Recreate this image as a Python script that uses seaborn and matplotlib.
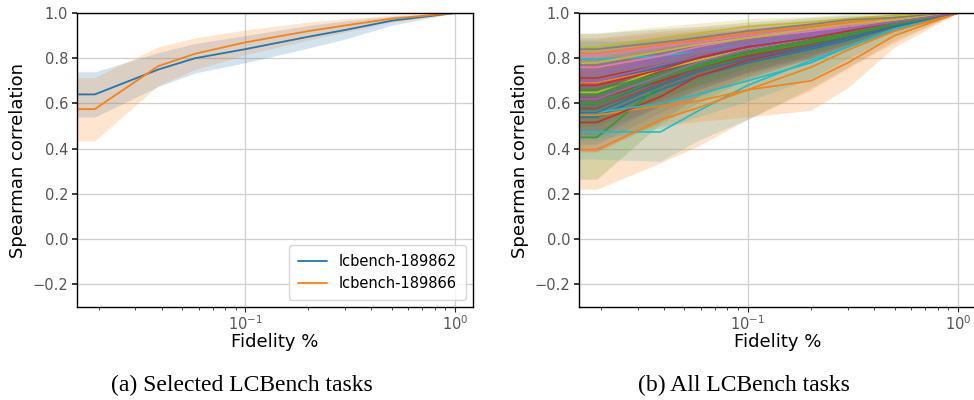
import numpy as np
import pandas as pd
import matplotlib
matplotlib.use("Agg")
import matplotlib.pyplot as plt
import seaborn as sns

# ---------------- data ----------------
fidelity = [0.0158, 0.0192, 0.0385, 0.0577, 0.1, 0.2, 0.3, 0.5, 1.0]

sel_tasks = ["lcbench-189862", "lcbench-189866"]
sel_mean = [
    [0.64, 0.64, 0.75, 0.80, 0.84, 0.895, 0.925, 0.966, 1.0],
    [0.575, 0.575, 0.765, 0.82, 0.87, 0.92, 0.945, 0.975, 1.0],
]
sel_std = [
    [0.10, 0.10, 0.075, 0.065, 0.06, 0.05, 0.04, 0.02, 0.0],
    [0.14, 0.14, 0.085, 0.07, 0.055, 0.04, 0.03, 0.015, 0.0],
]

all_mean = [
    [0.60, 0.60, 0.70, 0.75, 0.80, 0.86, 0.90, 0.95, 1.0],
    [0.821, 0.821, 0.86, 0.88, 0.91, 0.94, 0.96, 0.98, 1.0],
    [0.64, 0.64, 0.72, 0.77, 0.82, 0.87, 0.91, 0.95, 1.0],
    [0.713, 0.713, 0.77, 0.81, 0.85, 0.89, 0.92, 0.96, 1.0],
    [0.74, 0.74, 0.80, 0.84, 0.87, 0.91, 0.94, 0.97, 1.0],
    [0.575, 0.575, 0.69, 0.75, 0.80, 0.86, 0.90, 0.95, 1.0],
    [0.814, 0.814, 0.85, 0.87, 0.90, 0.93, 0.95, 0.97, 1.0],
    [0.77, 0.77, 0.82, 0.85, 0.88, 0.92, 0.94, 0.97, 1.0],
    [0.851, 0.851, 0.89, 0.91, 0.94, 0.96, 0.975, 0.99, 1.0],
    [0.795, 0.795, 0.81, 0.83, 0.86, 0.89, 0.92, 0.96, 1.0],
    [0.54, 0.54, 0.66, 0.72, 0.78, 0.84, 0.88, 0.94, 1.0],
    [0.693, 0.693, 0.75, 0.79, 0.84, 0.89, 0.92, 0.96, 1.0],
    [0.45, 0.45, 0.68, 0.74, 0.81, 0.87, 0.91, 0.95, 1.0],
    [0.622, 0.622, 0.70, 0.76, 0.81, 0.86, 0.90, 0.95, 1.0],
    [0.725, 0.725, 0.79, 0.83, 0.87, 0.91, 0.93, 0.96, 1.0],
    [0.66, 0.66, 0.74, 0.78, 0.83, 0.88, 0.91, 0.95, 1.0],
    [0.78, 0.78, 0.83, 0.86, 0.89, 0.92, 0.95, 0.97, 1.0],
    [0.84, 0.84, 0.87, 0.89, 0.92, 0.95, 0.97, 0.98, 1.0],
    [0.649, 0.649, 0.75, 0.79, 0.84, 0.89, 0.92, 0.96, 1.0],
    [0.474, 0.474, 0.474, 0.565, 0.68, 0.79, 0.85, 0.93, 1.0],
    [0.70, 0.70, 0.76, 0.80, 0.85, 0.89, 0.92, 0.96, 1.0],
    [0.548, 0.548, 0.59, 0.61, 0.66, 0.70, 0.78, 0.90, 1.0],
    [0.66, 0.66, 0.73, 0.78, 0.83, 0.88, 0.91, 0.95, 1.0],
    [0.516, 0.516, 0.63, 0.72, 0.79, 0.85, 0.89, 0.94, 1.0],
    [0.62, 0.62, 0.72, 0.78, 0.84, 0.89, 0.92, 0.96, 1.0],
    [0.58, 0.58, 0.68, 0.74, 0.80, 0.86, 0.90, 0.95, 1.0],
    [0.76, 0.76, 0.81, 0.85, 0.89, 0.92, 0.94, 0.97, 1.0],
    [0.72, 0.72, 0.78, 0.82, 0.86, 0.90, 0.93, 0.96, 1.0],
    [0.78, 0.78, 0.83, 0.86, 0.89, 0.93, 0.95, 0.97, 1.0],
    [0.56, 0.56, 0.60, 0.64, 0.70, 0.78, 0.85, 0.93, 1.0],
    [0.56, 0.56, 0.68, 0.74, 0.80, 0.85, 0.89, 0.94, 1.0],
    [0.396, 0.396, 0.527, 0.58, 0.66, 0.76, 0.836, 0.92, 1.0],
    [0.60, 0.60, 0.71, 0.76, 0.82, 0.87, 0.90, 0.95, 1.0],
    [0.68, 0.68, 0.75, 0.80, 0.85, 0.89, 0.92, 0.96, 1.0],
    [0.70, 0.70, 0.77, 0.81, 0.86, 0.90, 0.93, 0.96, 1.0],
]
all_std = [
    [0.09, 0.09, 0.08, 0.07, 0.06, 0.045, 0.035, 0.02, 0.0],
    [0.07, 0.07, 0.06, 0.05, 0.04, 0.03, 0.02, 0.01, 0.0],
    [0.10, 0.10, 0.09, 0.08, 0.06, 0.045, 0.035, 0.02, 0.0],
    [0.08, 0.08, 0.07, 0.06, 0.05, 0.04, 0.03, 0.015, 0.0],
    [0.08, 0.08, 0.07, 0.06, 0.05, 0.04, 0.03, 0.015, 0.0],
    [0.11, 0.11, 0.09, 0.08, 0.07, 0.05, 0.04, 0.02, 0.0],
    [0.07, 0.07, 0.06, 0.05, 0.04, 0.03, 0.02, 0.01, 0.0],
    [0.08, 0.08, 0.07, 0.06, 0.05, 0.035, 0.025, 0.015, 0.0],
    [0.06, 0.06, 0.05, 0.045, 0.035, 0.025, 0.02, 0.01, 0.0],
    [0.08, 0.08, 0.07, 0.06, 0.05, 0.04, 0.03, 0.015, 0.0],
    [0.12, 0.12, 0.10, 0.09, 0.07, 0.05, 0.04, 0.02, 0.0],
    [0.09, 0.09, 0.08, 0.07, 0.055, 0.04, 0.03, 0.015, 0.0],
    [0.185, 0.185, 0.17, 0.14, 0.10, 0.07, 0.05, 0.03, 0.0],
    [0.10, 0.10, 0.09, 0.08, 0.065, 0.05, 0.04, 0.02, 0.0],
    [0.08, 0.08, 0.07, 0.06, 0.05, 0.04, 0.03, 0.015, 0.0],
    [0.09, 0.09, 0.08, 0.07, 0.055, 0.04, 0.03, 0.015, 0.0],
    [0.07, 0.07, 0.06, 0.05, 0.04, 0.03, 0.02, 0.01, 0.0],
    [0.07, 0.07, 0.06, 0.05, 0.04, 0.03, 0.02, 0.01, 0.0],
    [0.10, 0.10, 0.08, 0.07, 0.055, 0.04, 0.03, 0.015, 0.0],
    [0.12, 0.12, 0.13, 0.13, 0.15, 0.12, 0.09, 0.05, 0.0],
    [0.08, 0.08, 0.07, 0.06, 0.05, 0.04, 0.03, 0.015, 0.0],
    [0.09, 0.09, 0.09, 0.09, 0.12, 0.13, 0.11, 0.05, 0.0],
    [0.09, 0.09, 0.08, 0.07, 0.055, 0.04, 0.03, 0.015, 0.0],
    [0.13, 0.13, 0.11, 0.09, 0.07, 0.05, 0.04, 0.02, 0.0],
    [0.10, 0.10, 0.08, 0.07, 0.055, 0.04, 0.03, 0.015, 0.0],
    [0.11, 0.11, 0.09, 0.08, 0.06, 0.045, 0.035, 0.02, 0.0],
    [0.07, 0.07, 0.06, 0.05, 0.04, 0.03, 0.02, 0.01, 0.0],
    [0.08, 0.08, 0.07, 0.06, 0.05, 0.04, 0.03, 0.015, 0.0],
    [0.07, 0.07, 0.06, 0.05, 0.04, 0.03, 0.02, 0.01, 0.0],
    [0.12, 0.12, 0.11, 0.10, 0.09, 0.07, 0.05, 0.03, 0.0],
    [0.11, 0.11, 0.09, 0.08, 0.065, 0.05, 0.04, 0.02, 0.0],
    [0.175, 0.175, 0.19, 0.17, 0.13, 0.10, 0.08, 0.05, 0.0],
    [0.10, 0.10, 0.09, 0.08, 0.06, 0.045, 0.035, 0.02, 0.0],
    [0.09, 0.09, 0.08, 0.07, 0.055, 0.04, 0.03, 0.015, 0.0],
    [0.08, 0.08, 0.07, 0.06, 0.05, 0.04, 0.03, 0.015, 0.0],
]
all_tasks = [f"task-{i:02d}" for i in range(len(all_mean))]

y_ticks = [-0.2, 0.0, 0.2, 0.4, 0.6, 0.8, 1.0]
captions = ["(a) Selected LCBench tasks", "(b) All LCBench tasks"]

# ---------------- style ----------------
sns.set_theme(style="whitegrid")
plt.rcParams.update({
    "font.family": ["DejaVu Sans"],
    "text.color": "black",
    "axes.labelcolor": "black",
    "axes.edgecolor": "black",
    "axes.linewidth": 1.0,
    "grid.color": "#cfcfcf",
    "grid.linewidth": 0.9,
    "xtick.bottom": True,
    "ytick.left": True,
    "xtick.color": "#222222",
    "ytick.color": "#222222",
    "xtick.labelcolor": "#555555",
    "ytick.labelcolor": "#555555",
    "xtick.major.size": 3.5,
    "ytick.major.size": 3.5,
    "xtick.minor.size": 2.0,
    "xtick.minor.visible": True,
    "xtick.major.width": 0.8,
    "xtick.minor.width": 0.6,
    "xtick.major.pad": 2.0,
    "ytick.major.pad": 3.0,
    "xtick.labelsize": 10.5,
    "ytick.labelsize": 10.5,
})

fig = plt.figure(figsize=(9.74, 4.0), dpi=100)
ax1 = fig.add_axes([0.0791, 0.2325, 0.4066, 0.735])
ax2 = fig.add_axes([0.5945, 0.2325, 0.4076, 0.735])


def long_df(tasks, means):
    rows = []
    for t, m in zip(tasks, means):
        for f, v in zip(fidelity, m):
            rows.append((t, f, v))
    return pd.DataFrame(rows, columns=["task", "fidelity", "spearman"])


tab10 = sns.color_palette("tab10")

# left panel
df1 = long_df(sel_tasks, sel_mean)
pal1 = {t: tab10[i % 10] for i, t in enumerate(sel_tasks)}
sns.lineplot(data=df1, x="fidelity", y="spearman", hue="task", palette=pal1,
             errorbar=None, linewidth=1.3, ax=ax1)
for i, t in enumerate(sel_tasks):
    m = np.array(sel_mean[i]); s = np.array(sel_std[i])
    ax1.fill_between(fidelity, m - s, m + s, color=pal1[t], alpha=0.2, linewidth=0)
ax1.legend(loc="lower right", fontsize=10.5, frameon=True, title=None,
           handlelength=2.0, borderpad=0.6, labelspacing=0.5)

# right panel
df2 = long_df(all_tasks, all_mean)
pal2 = {t: tab10[i % 10] for i, t in enumerate(all_tasks)}
for i, t in enumerate(all_tasks):
    m = np.array(all_mean[i]); s = np.array(all_std[i])
    ax2.fill_between(fidelity, m - s, m + s, color=pal2[t], alpha=0.22, linewidth=0)
sns.lineplot(data=df2, x="fidelity", y="spearman", hue="task", palette=pal2,
             errorbar=None, linewidth=1.2, ax=ax2, legend=False)

for ax, cap in zip([ax1, ax2], captions):
    ax.set_xscale("log")
    ax.set_xlim(0.0158, 1.22)
    ax.set_ylim(-0.3, 1.0)
    ax.set_yticks(y_ticks)
    ax.grid(True, which="major")
    ax.grid(False, which="minor")
    ax.set_xlabel("Fidelity %", fontsize=13, color="black", labelpad=0)
    ax.set_ylabel("Spearman correlation", fontsize=13, color="black")
    for sp in ax.spines.values():
        sp.set_color("black")
        sp.set_visible(True)

fig.text(242 / 974, 1 - 385 / 400, captions[0], ha="center", va="center",
         fontsize=17, color="black", family=["Liberation Serif"])
fig.text(744 / 974, 1 - 385 / 400, captions[1], ha="center", va="center",
         fontsize=17, color="black", family=["Liberation Serif"])

fig.savefig("out.png", dpi=100)
